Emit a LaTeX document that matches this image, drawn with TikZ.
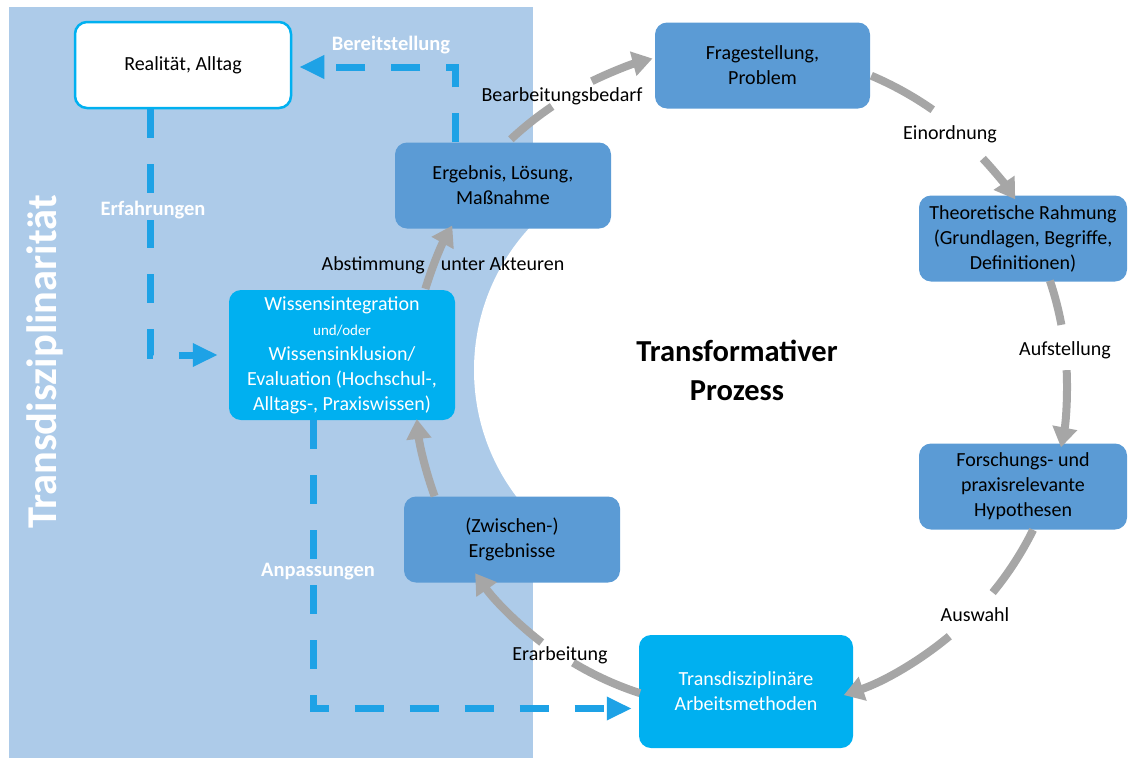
\documentclass[tikz,border=0pt]{standalone}
\usepackage{fontspec}
\setmainfont{Carlito}
\usepackage{tikz}
\usetikzlibrary{arrows.meta,positioning}

\definecolor{panelblue}{RGB}{173,203,233}
\definecolor{midblue}{RGB}{91,155,213}
\definecolor{cyanbox}{RGB}{0,176,240}
\definecolor{dashblue}{RGB}{30,162,230}
\definecolor{arcgray}{RGB}{166,166,166}

\begin{document}
\begin{tikzpicture}[
  x=1pt, y=1pt,
  font=\fontsize{20}{25}\selectfont,
  box/.style={rounded corners=12pt, fill=#1, minimum width=216pt, minimum height=86pt,
              align=center, inner sep=3pt},
  dasharr/.style={draw=dashblue, line width=7pt, dash pattern=on 29pt off 26pt,
                  -{Triangle[length=25pt,width=22pt]}},
  garc/.style={draw=arcgray, line width=8pt},
  gtip/.style={garc, -{Triangle[length=20pt,width=24pt]}},
  lab/.style={font=\bfseries\fontsize{20.5}{24}\selectfont, text=white, fill=panelblue, inner sep=1pt}
]
\useasboundingbox (0,0) rectangle (1128,-758);

% Background panel
\fill[panelblue] (9,-7) rectangle (533,-758);
\fill[white] (684,-370) circle[radius=210];
\node[rotate=90, text=white, font=\bfseries\fontsize{42.5}{42}\selectfont] (side) at (45,-362)
     {Transdisziplinarität};

% Boxes
\node[box=white, draw=cyanbox, line width=2.5pt] (real) at (183,-65) {Realität, Alltag};
\node[box=midblue] (ergeb) at (503,-185.5) {Ergebnis, Lösung,\\Maßnahme};
\node[box=cyanbox, text=white, minimum width=226pt, minimum height=130pt] (wiss) at (342,-355)
     {Wissensintegration\\{\fontsize{15}{18}\selectfont und/oder}\\Wissensinklusion/\\Evaluation (Hochschul-,\\Alltags-, Praxiswissen)};
\node[box=midblue] (zwisch) at (512,-539.5) {(Zwischen-)\\Ergebnisse};
\node[box=midblue, minimum width=215pt] (frage) at (762.5,-65.5) {Fragestellung,\\Problem};
\node[box=midblue, minimum width=208pt] (theo) at (1023,-238.5)
     {Theoretische Rahmung\\(Grundlagen, Begriffe,\\Definitionen)};
\node[box=midblue, minimum width=208pt] (hypo) at (1023,-486.5)
     {Forschungs- und\\praxisrelevante\\Hypothesen};
\node[box=cyanbox, text=white, minimum width=214pt, minimum height=113pt] (arbeit) at (746,-691.5)
     {Transdisziplinäre\\Arbeitsmethoden};

\node[font=\bfseries\fontsize{30.5}{39}\selectfont, align=center] (title) at (737,-370)
     {Transformativer\\Prozess};

% Dashed feedback paths
\draw[dasharr, shorten >=7pt] ([xshift=-48pt]ergeb.north) |- ([yshift=-2pt]real.east);
\draw[dasharr, shorten >=11pt] ([xshift=-33pt]real.south) |- (wiss.west);
\draw[dasharr, shorten >=7pt] ([xshift=-29pt]wiss.south) |- ([yshift=-17pt]arbeit.west);
\node[lab, fill=none] (bereit) at (391,-45) {Bereitstellung};
\node[lab] (erfahr) at (153,-210) {Erfahrungen};
\node[lab] (anpass) at (318,-572) {Anpassungen};

% Process cycle
\coordinate (ctr) at (740,-385);
\draw[garc] ([shift={(133:336)}]ctr) arc[start angle=133, end angle=124, radius=336];
\draw[gtip] ([shift={(116:338)}]ctr) arc[start angle=116, end angle=105, radius=338];
\draw[garc] ([shift={(67:336)}]ctr) arc[start angle=67, end angle=55, radius=336];
\draw[gtip] ([shift={(43:332)}]ctr) arc[start angle=43, end angle=34, radius=332];
\draw[garc] ([shift={(18.6:327)}]ctr) arc[start angle=18.6, end angle=10.6, radius=327];
\draw[gtip] ([shift={(2.6:327)}]ctr) arc[start angle=2.6, end angle=-11, radius=327];
\draw[garc] ([shift={(-26.3:327)}]ctr) arc[start angle=-26.3, end angle=-39.4, radius=327];
\draw[gtip] ([shift={(-50.2:327)}]ctr) arc[start angle=-50.2, end angle=-71.5, radius=327];
\draw[garc] ([shift={(-108:324)}]ctr) arc[start angle=-108, end angle=-121, radius=324];
\draw[gtip] ([shift={(-127.6:325)}]ctr) arc[start angle=-127.6, end angle=-144.6, radius=325];
\draw[gtip] ([shift={(200:325)}]ctr) arc[start angle=200, end angle=186, radius=325];
\draw[gtip] ([shift={(163:329)}]ctr) arc[start angle=163, end angle=151, radius=329];

\node (bearb) at (562,-96) {Bearbeitungsbedarf};
\node (einord) at (950,-134) {Einordnung};
\node (aufst) at (1065,-350) {Aufstellung};
\node (ausw) at (975,-615) {Auswahl};
\node (erarb) at (560,-655) {Erarbeitung};
\node (abst) at (443,-265) {Abstimmung\hspace{16pt}unter Akteuren};
\end{tikzpicture}
\end{document}
